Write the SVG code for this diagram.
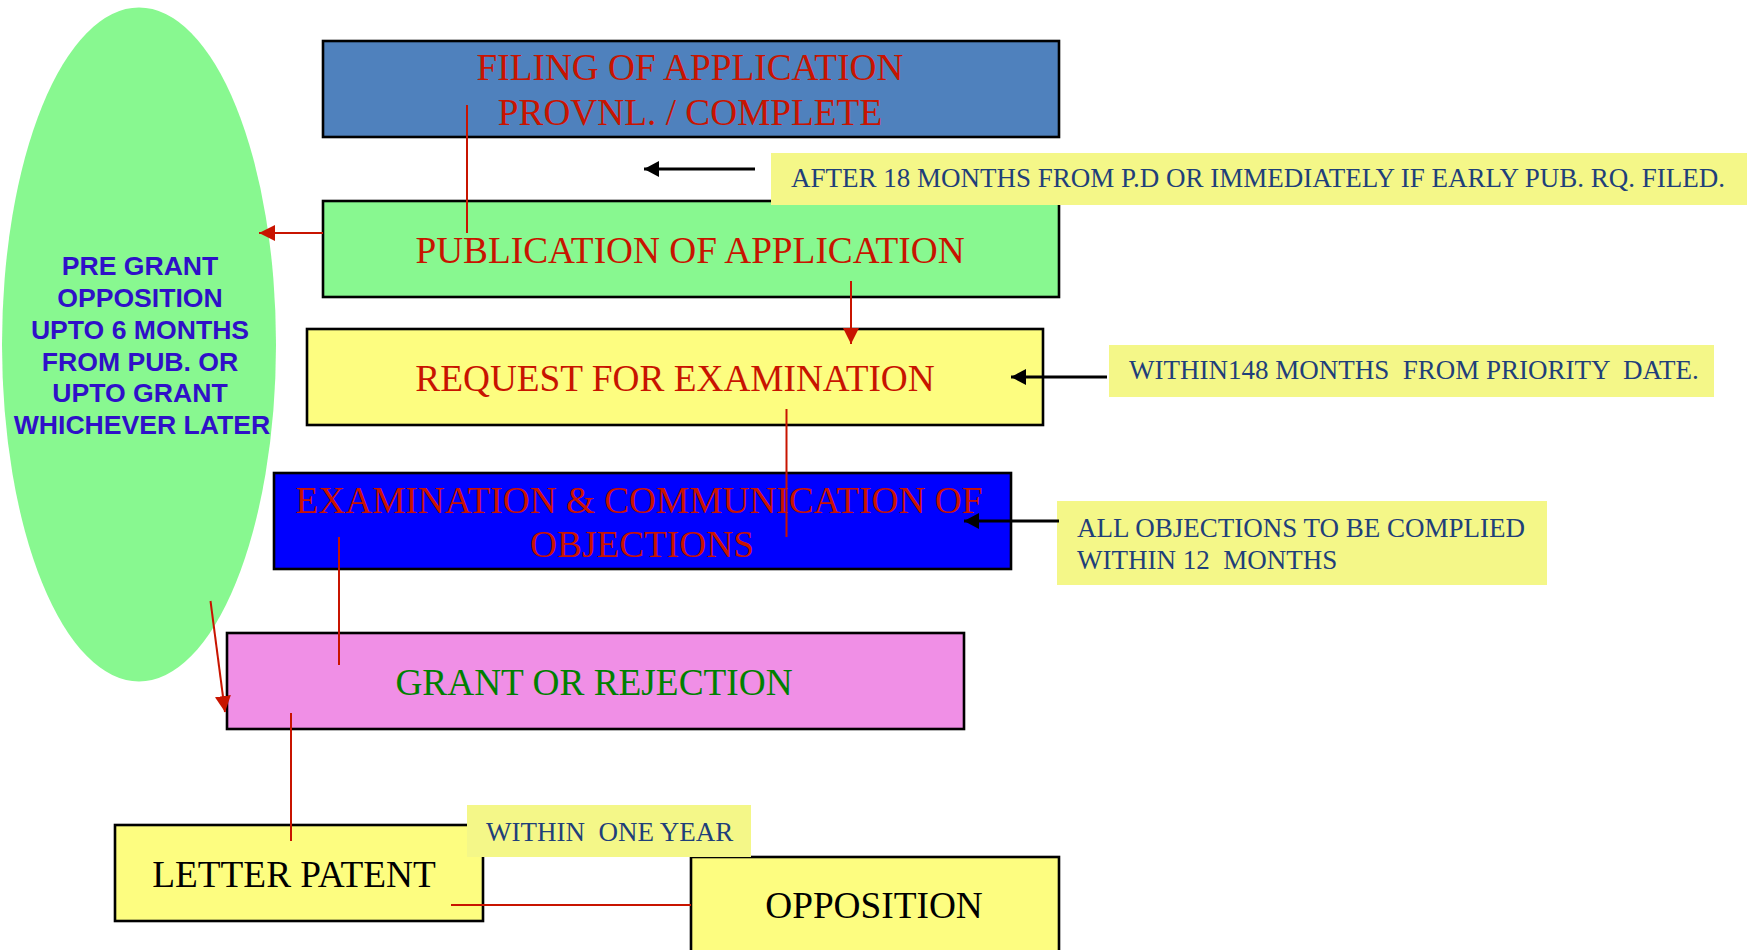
<svg xmlns="http://www.w3.org/2000/svg" width="1747" height="950" viewBox="0 0 1747 950">
<defs>
<style>
.box{stroke:#000;stroke-width:2.6}
.main{font-family:"Liberation Serif","Times New Roman",serif;font-size:37.3px;text-anchor:middle}
.red{fill:#C81400}
.note{fill:#F4F788}
.ntxt{font-family:"Liberation Serif","Times New Roman",serif;font-size:27px;fill:#1F3F7A;white-space:pre}
.ell{font-family:"Liberation Sans",Arial,sans-serif;font-weight:bold;font-size:26.6px;fill:#2F10C8;text-anchor:middle}
.rl{stroke:#C81400;stroke-width:2;fill:none}
.bl{stroke:#000;stroke-width:3;fill:none}
</style>
<marker id="ra" markerUnits="userSpaceOnUse" markerWidth="16" markerHeight="16" viewBox="0 0 16 16" refX="16" refY="8" orient="auto">
<path d="M0,0 L16,8 L0,16 Z" fill="#C81400"/>
</marker>
<marker id="ba" markerUnits="userSpaceOnUse" markerWidth="15" markerHeight="16" viewBox="0 0 15 16" refX="15" refY="8" orient="auto">
<path d="M0,0 L15,8 L0,16 Z" fill="#000"/>
</marker>
</defs>
<rect width="1747" height="950" fill="#fff"/>

<g id="pre-grant">
<ellipse cx="139" cy="344.5" rx="137" ry="337" fill="#88F890"/>
<text class="ell" x="140" y="275">PRE GRANT</text>
<text class="ell" x="140" y="307">OPPOSITION</text>
<text class="ell" x="140" y="339">UPTO 6 MONTHS</text>
<text class="ell" x="140" y="371">FROM PUB. OR</text>
<text class="ell" x="140" y="402">UPTO GRANT</text>
<text class="ell" x="142" y="434">WHICHEVER LATER</text>
</g>

<g id="filing">
<rect class="box" x="323" y="41" width="736" height="96" fill="#4F81BD"/>
<text class="main red" x="690" y="80">FILING OF APPLICATION</text>
<text class="main red" x="690" y="125">PROVNL. / COMPLETE</text>
</g>

<g id="publication">
<rect class="box" x="323" y="201" width="736" height="96" fill="#88F890"/>
<text class="main red" x="690" y="263">PUBLICATION OF APPLICATION</text>
</g>

<g id="request">
<rect class="box" x="307" y="329" width="736" height="96" fill="#FDFD80"/>
<text class="main red" x="675" y="391">REQUEST FOR EXAMINATION</text>
</g>

<g id="examination">
<rect class="box" x="274" y="473" width="737" height="96" fill="#0000FF"/>
<text class="main red" x="639" y="513">EXAMINATION &amp; COMMUNICATION OF</text>
<text class="main red" x="642" y="557">OBJECTIONS</text>
</g>

<g id="grant">
<rect class="box" x="227" y="633" width="737" height="96" fill="#F08FE6"/>
<text class="main" x="594" y="695" fill="#008000">GRANT OR REJECTION</text>
</g>

<g id="letter-patent">
<rect class="box" x="115" y="825" width="368" height="96" fill="#FDFD80"/>
<text class="main" x="294" y="887" fill="#000">LETTER PATENT</text>
</g>

<g id="opposition">
<rect class="box" x="691" y="857" width="368" height="100" fill="#FDFD80"/>
<text class="main" x="874" y="918" fill="#000">OPPOSITION</text>
</g>

<g id="note-publication">
<rect class="note" x="771" y="153" width="976" height="52"/>
<text class="ntxt" x="791" y="187">AFTER 18 MONTHS FROM P.D OR IMMEDIATELY IF EARLY PUB. RQ. FILED.</text>
</g>

<g id="note-request">
<rect class="note" x="1109" y="345" width="605" height="52"/>
<text class="ntxt" x="1129" y="379">WITHIN148 MONTHS  FROM PRIORITY  DATE.</text>
</g>

<g id="note-objections">
<rect class="note" x="1057" y="501" width="490" height="84"/>
<text class="ntxt" x="1077" y="537">ALL OBJECTIONS TO BE COMPLIED</text>
<text class="ntxt" x="1077" y="569">WITHIN 12  MONTHS</text>
</g>

<g id="note-opposition">
<rect class="note" x="467" y="805" width="284" height="52"/>
<text class="ntxt" x="486" y="841">WITHIN  ONE YEAR</text>
</g>

<g id="connectors">
<line class="rl" x1="467" y1="105" x2="467" y2="233"/>
<line class="rl" x1="323" y1="233" x2="259" y2="233" stroke-width="3" marker-end="url(#ra)"/>
<line class="rl" x1="851" y1="281" x2="851" y2="344" marker-end="url(#ra)"/>
<line class="rl" x1="786.5" y1="409" x2="786.5" y2="537" stroke-width="1.6"/>
<line class="rl" x1="339" y1="537" x2="339" y2="665"/>
<line class="rl" x1="210.5" y1="601" x2="225" y2="712" stroke-width="3" marker-end="url(#ra)"/>
<line class="rl" x1="291" y1="713" x2="291" y2="841"/>
<line class="rl" x1="451" y1="905" x2="691" y2="905" stroke-width="3"/>
<line class="bl" x1="755" y1="169" x2="644" y2="169" marker-end="url(#ba)"/>
<line class="bl" x1="1107" y1="377" x2="1011" y2="377" marker-end="url(#ba)"/>
<line class="bl" x1="1059" y1="521" x2="964" y2="521" marker-end="url(#ba)"/>
</g>
</svg>
